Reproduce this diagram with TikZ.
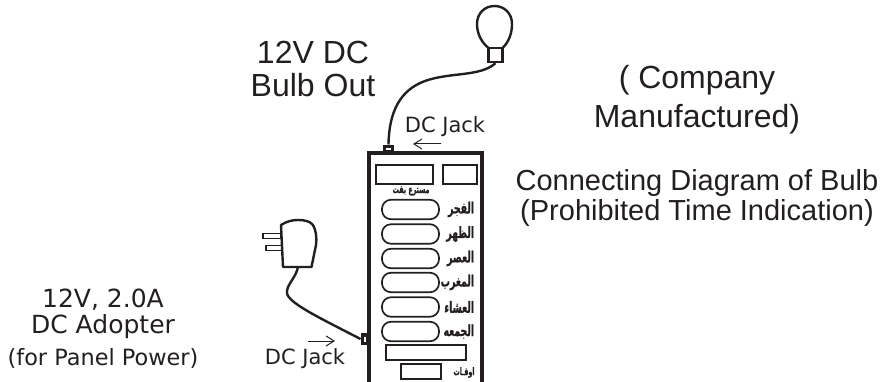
\documentclass[tikz,border=0pt]{standalone}
\usepackage{fontspec}
\setmainfont{Liberation Sans}
\newfontfamily\dejavu{DejaVu Sans}
\newfontfamily\arabicfont[Script=Arabic, FakeStretch=0.6, BoldFeatures={FakeStretch=0.6, FakeBold=0.6}]{DejaVu Sans}
\TeXXeTstate=1
\usetikzlibrary{arrows.meta, positioning}
\definecolor{cink}{HTML}{231F20}
\tikzset{
  every picture/.style={line width=1pt},
  heading/.style={font=\fontsize{32}{33}\selectfont, text=cink, align=center, inner sep=0pt},
  company/.style={heading, font=\fontsize{32}{39}\selectfont},
  caption/.style={heading, font=\fontsize{29}{30}\selectfont},
  note/.style={font=\dejavu\fontsize{25}{26}\selectfont, text=cink, align=center, inner sep=0pt},
  jacktext/.style={font=\dejavu\fontsize{21}{24}\selectfont, text=cink, inner sep=0pt, anchor=base},
  cable/.style={line width=2.4pt, draw=cink},
  pointer/.style={-{Straight Barb[length=8pt, width=10pt]}, line width=1pt, draw=cink},
  jack/.style={fill=cink, inner sep=0pt},
  slot/.style={fill=white, inner sep=0pt},
  display/.style={draw=cink, line width=1.7pt, inner sep=0pt},
  button/.style={display, minimum width=57pt, minimum height=19.5pt, rounded corners=9pt},
  prayer/.style={font=\arabicfont\bfseries\fontsize{15.5}{17}\selectfont, text=cink, inner sep=0pt},
  tiny/.style={font=\arabicfont\bfseries\fontsize{10.5}{12}\selectfont, text=cink, inner sep=0pt},
}
\begin{document}
\begin{tikzpicture}[x=1pt, y=-1pt]
  \useasboundingbox (0,0) rectangle (884,382);
  % panel, open at the bottom
  \draw[line width=3.4pt, draw=cink, line join=miter] (369,382) -- (369,153) -- (482,153) -- (482,382);
  \node[display, minimum width=57pt, minimum height=19pt] (disp) at (404.5,174.5) {};
  \node[display, minimum width=34pt, minimum height=19pt] (disptwo) at (460,174.5) {};
  \node[tiny] (settext) at (411,191) {\beginR مسترع بقت\endR};
  \foreach \y/\name/\word in {209.5/fajr/الفجر, 234/zuhr/الظهر, 258.5/asr/العصر, 282.5/maghrib/المغرب, 307/isha/العشاء, 331.5/juma/الجمعه} {
    \node[button] (\name) at (410.5,\y) {};
    \node[prayer, anchor=east] (\name text) at (474.5,\y) {\beginR \word\endR};
  }
  \node[display, minimum width=80pt, minimum height=15pt] (wide) at (426,352.5) {};
  \node[display, minimum width=40pt, minimum height=15pt] (small) at (421,371.5) {};
  \node[tiny, anchor=east] (timetext) at (475,372.5) {\beginR اوقـات\endR};
  % jacks
  \node[jack, minimum width=11pt, minimum height=8pt] (topjack) at (388.5,149) {};
  \node[slot, minimum width=5pt, minimum height=2pt] (topslot) at (388.5,149.5) {};
  \node[jack, minimum width=7pt, minimum height=12pt] (sidejack) at (364.5,339) {};
  \node[slot, minimum width=2pt, minimum height=5pt] (sideslot) at (364.5,339) {};
  % bulb
  \node[draw=cink, line width=2.4pt, minimum width=14pt, minimum height=14pt, inner sep=0pt] (base) at (495.5,55) {};
  \draw[line width=2.4pt, draw=cink] (488.5,48) .. controls (481,42) and (477,33) .. (477,24)
    .. controls (477,13) and (485,6) .. (494.5,6) .. controls (504,6) and (512,13) .. (512,24)
    .. controls (512,33) and (509,42) .. (502.5,48);
  \draw[cable] (base.south) .. controls (480,77) and (450,72) .. (425,81) .. controls (400,90) and (389,112) .. (topjack.north);
  % adapter
  \node[draw=cink, line width=1.7pt, fill=white, minimum width=18pt, minimum height=5pt, inner sep=0pt] (prongone) at (272,236) {};
  \node[draw=cink, line width=1.7pt, fill=white, minimum width=16pt, minimum height=5pt, inner sep=0pt] (prongtwo) at (274,248) {};
  \coordinate (plug) at (298,267);
  \draw[line width=2.4pt, draw=cink, fill=white, line join=round] (283,267) -- (281,225) .. controls (287,221) and (293,220) .. (298,220)
    .. controls (304,220) and (310,221) .. (313,225) .. controls (316,230) and (317,238) .. (316,245) -- (311.5,267) -- cycle;
  \draw[cable] (plug) .. controls (296,278) and (286,285) .. (287,293) .. controls (288,303) and (320,318) .. (sidejack.west);
  % texts
  \node[heading] (bulbout) at (313,69) {12V DC\\Bulb Out};
  \node[company] (maker) at (697,100) {( Company\\Manufactured)};
  \node[caption] (connect) at (697,198) {Connecting Diagram of Bulb\\(Prohibited Time Indication)};
  \node[note] (adopter) at (103,329) {12V, 2.0A\\DC Adopter\\[6pt]{\fontsize{22.4}{26}\selectfont (for Panel Power)}};
  \node[jacktext] (jackone) at (445,133) {DC Jack};
  \node[jacktext] (jacktwo) at (305,364) {DC Jack};
  \coordinate (arrowonestart) at (441,144);
  \coordinate (arrowoneend) at (413,144);
  \coordinate (arrowtwostart) at (308,341);
  \coordinate (arrowtwoend) at (335,341);
  \draw[pointer] (arrowonestart) -- (arrowoneend);
  \draw[pointer] (arrowtwostart) -- (arrowtwoend);
\end{tikzpicture}
\end{document}
